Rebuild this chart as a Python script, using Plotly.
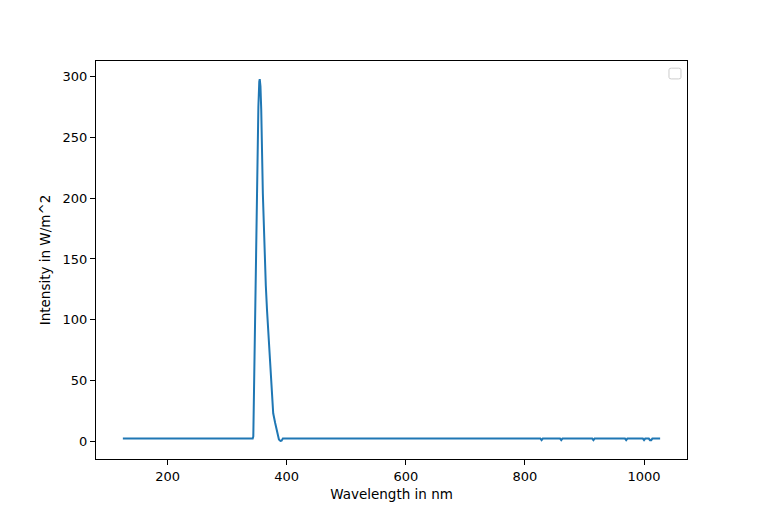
import plotly.graph_objects as go

# Spektrum: Wellenlänge (nm) und Intensität (W/m^2)
wavelength = [125, 343, 344, 346, 348.4, 350.6, 352.5, 354, 354.8, 356, 357.3,
              360, 362.9, 365, 367, 369, 371, 374, 376, 377.4, 380.7, 384,
              387, 389.6, 391.5, 393.6,
              826, 828, 830, 859, 861, 863, 913, 915, 917, 968, 970, 972,
              998, 1000, 1002, 1008, 1010, 1012, 1014, 1016, 1027]
intensity = [2.2, 2.2, 4, 67, 149, 232, 275, 296, 298, 292, 273,
             204, 149, 128, 108, 90, 72, 53, 36, 23, 15, 8,
             1.5, 0.3, 0.5, 2.2,
             2.2, 0.9, 2.2, 2.2, 0.9, 2.2, 2.2, 0.9, 2.2, 2.2, 0.9, 2.2,
             2.2, 0.9, 2.2, 2.2, 0.9, 0.9, 2.2, 2.2, 2.2]

x_ticks = [200, 400, 600, 800, 1000]
y_ticks = [0, 50, 100, 150, 200, 250, 300]

fig = go.Figure()
fig.add_trace(go.Scatter(x=wavelength, y=intensity, mode="lines",
                         line=dict(color="#1f77b4", width=2), showlegend=False))

# 5 % Rand wie bei matplotlib
x_min, x_max = min(wavelength), max(wavelength)
y_min, y_max = min(intensity), max(intensity)
dx = (x_max - x_min) * 0.05
dy = (y_max - y_min) * 0.05

axis_style = dict(showline=True, linecolor="black", linewidth=1, mirror=True,
                  ticks="outside", ticklen=5, tickcolor="black", showgrid=False,
                  zeroline=False, automargin=False,
                  tickfont=dict(size=13, color="black"))

fig.update_xaxes(range=[x_min - dx, x_max + dx], tickvals=x_ticks,
                 title=dict(text="Wavelength in nm", font=dict(size=13.5, color="black"),
                            standoff=6), **axis_style)
fig.update_yaxes(range=[y_min - dy, y_max + dy], tickvals=y_ticks,
                 title=dict(text="Intensity in W/m^2", font=dict(size=13.5, color="black"),
                            standoff=8), **axis_style)

# leere Legende (nur Rahmen, abgerundet)
lx0, lx1, ly0, ly1, r = 0.9695, 0.9898, 0.955, 0.982, 0.004
fig.add_shape(type="path", xref="paper", yref="paper",
              path=(f"M {lx0 + r} {ly0} L {lx1 - r} {ly0} Q {lx1} {ly0} {lx1} {ly0 + r} "
                    f"L {lx1} {ly1 - r} Q {lx1} {ly1} {lx1 - r} {ly1} "
                    f"L {lx0 + r} {ly1} Q {lx0} {ly1} {lx0} {ly1 - r} "
                    f"L {lx0} {ly0 + r} Q {lx0} {ly0} {lx0 + r} {ly0} Z"),
              line=dict(color="#cccccc", width=1), fillcolor="white")

# Seite hat 8px Rand -> Figur entsprechend kleiner
fig.update_layout(
    width=747, height=500,
    margin=dict(l=88, r=68, t=53, b=49),
    plot_bgcolor="white", paper_bgcolor="white",
    font=dict(family="DejaVu Sans", color="black"),
)

fig.write_html("out.html")
